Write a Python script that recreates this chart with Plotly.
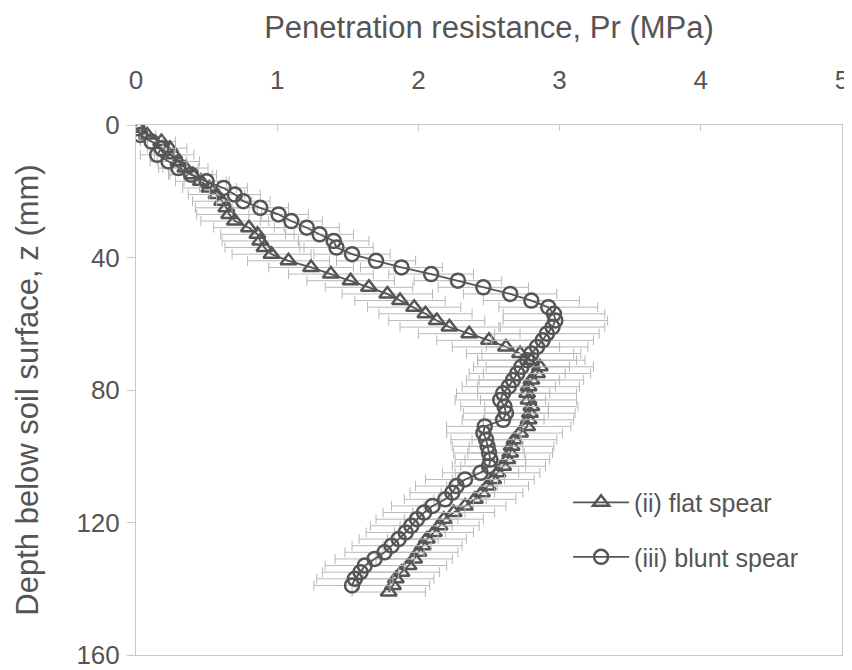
import plotly.graph_objects as go

# Depth below soil surface (mm)
depth_flat = [1, 3, 5, 7, 9, 11, 13, 15, 17, 19, 21, 23, 25, 27, 29, 31, 33, 35, 37, 39,
              41, 43, 45, 47, 49, 51, 53, 55, 57, 59, 61, 63, 65, 67, 69, 71, 73, 75, 77, 79,
              81, 83, 85, 87, 89, 91, 93, 95, 97, 99, 101, 103, 105, 107, 109, 111, 113, 115,
              117, 119, 121, 123, 125, 127, 129, 131, 133, 135, 137, 139, 141]
pr_flat = [0.02, 0.08, 0.18, 0.24, 0.27, 0.30, 0.35, 0.40, 0.46, 0.52, 0.57, 0.61, 0.64, 0.66,
           0.70, 0.80, 0.86, 0.88, 0.91, 0.96, 1.08, 1.24, 1.38, 1.52, 1.65, 1.78, 1.87, 1.97,
           2.05, 2.13, 2.22, 2.36, 2.50, 2.62, 2.72, 2.80, 2.86, 2.84, 2.80, 2.78, 2.77, 2.78,
           2.80, 2.79, 2.78, 2.77, 2.72, 2.68, 2.66, 2.65, 2.63, 2.60, 2.56, 2.53, 2.49, 2.45,
           2.40, 2.33, 2.25, 2.18, 2.15, 2.11, 2.06, 2.03, 2.00, 1.97, 1.93, 1.88, 1.84, 1.82,
           1.79]
err_flat = [0.03, 0.06, 0.10, 0.12, 0.14, 0.15, 0.16, 0.17, 0.18, 0.19, 0.20, 0.21, 0.22, 0.23,
            0.24, 0.25, 0.26, 0.27, 0.28, 0.28, 0.29, 0.30, 0.30, 0.31, 0.31, 0.32, 0.32, 0.33,
            0.33, 0.34, 0.35, 0.36, 0.37, 0.38, 0.38, 0.38, 0.38, 0.38, 0.37, 0.36, 0.35, 0.34,
            0.33, 0.32, 0.32, 0.31, 0.30, 0.30, 0.30, 0.30, 0.30, 0.30, 0.30, 0.29, 0.29, 0.29,
            0.29, 0.29, 0.29, 0.28, 0.28, 0.28, 0.28, 0.28, 0.28, 0.27, 0.27, 0.27, 0.27, 0.26,
            0.26]

depth_blunt = [1, 3, 5, 7, 9, 11, 13, 15, 17, 19, 21, 23, 25, 27, 29, 31, 33, 35, 37, 39,
               41, 43, 45, 47, 49, 51, 53, 55, 57, 59, 61, 63, 65, 67, 69, 71, 73, 75, 77, 79,
               81, 83, 85, 87, 89, 91, 93, 95, 97, 99, 101, 103, 105, 107, 109, 111, 113, 115,
               117, 119, 121, 123, 125, 127, 129, 131, 133, 135, 137, 139]
pr_blunt = [0.01, 0.03, 0.11, 0.18, 0.15, 0.23, 0.30, 0.39, 0.50, 0.62, 0.70, 0.76, 0.88, 1.01,
            1.10, 1.21, 1.30, 1.40, 1.42, 1.53, 1.70, 1.88, 2.09, 2.28, 2.46, 2.65, 2.80, 2.92,
            2.96, 2.97, 2.95, 2.91, 2.88, 2.84, 2.80, 2.77, 2.73, 2.70, 2.67, 2.64, 2.60, 2.58,
            2.61, 2.62, 2.60, 2.47, 2.46, 2.48, 2.49, 2.50, 2.51, 2.50, 2.44, 2.33, 2.27, 2.24,
            2.19, 2.10, 2.04, 1.99, 1.95, 1.91, 1.86, 1.81, 1.76, 1.69, 1.62, 1.59, 1.55, 1.53]
err_blunt = [0.02, 0.05, 0.08, 0.10, 0.12, 0.13, 0.14, 0.15, 0.16, 0.17, 0.18, 0.19, 0.20, 0.21,
             0.22, 0.23, 0.24, 0.25, 0.26, 0.27, 0.28, 0.29, 0.30, 0.31, 0.32, 0.33, 0.34, 0.35,
             0.36, 0.37, 0.37, 0.37, 0.36, 0.36, 0.35, 0.35, 0.34, 0.34, 0.33, 0.33, 0.33, 0.32,
             0.31, 0.30, 0.29, 0.27, 0.26, 0.25, 0.25, 0.25, 0.25, 0.26, 0.27, 0.28, 0.29, 0.30,
             0.29, 0.29, 0.29, 0.29, 0.29, 0.28, 0.28, 0.28, 0.28, 0.28, 0.28, 0.27, 0.27, 0.27]

x_ticks = [0, 1, 2, 3, 4, 5]
y_ticks = [0, 40, 80, 120, 160]

FONT = "Liberation Sans, Arial, sans-serif"
TXT = "#555555"
MARK = "#555555"
ERR = "#b8b8b8"
AXIS = "#c8c8c8"

fig = go.Figure()
fig.add_trace(go.Scatter(
    x=pr_flat, y=depth_flat, mode="lines+markers", name="(ii) flat spear",
    legendgroup="a",
    line=dict(color=MARK, width=1.8),
    marker=dict(symbol="triangle-up-open", size=14, color=MARK, line=dict(width=2.5, color=MARK)),
    error_x=dict(type="data", array=err_flat, symmetric=True, color=ERR, thickness=1, width=5),
))
fig.add_trace(go.Scatter(
    x=pr_blunt, y=depth_blunt, mode="lines+markers", name="(iii) blunt spear",
    legendgroup="b",
    line=dict(color=MARK, width=1.8),
    marker=dict(symbol="circle-open", size=14, color=MARK, line=dict(width=2.5, color=MARK)),
    error_x=dict(type="data", array=err_blunt, symmetric=True, color=ERR, thickness=1, width=5),
))

# the page body adds an 8 px offset, so margins are set to land the axes
# at the reference pixel positions in the 852x670 window
fig.update_layout(
    width=852, height=670,
    margin=dict(l=128, r=18, t=117, b=23),
    paper_bgcolor="white", plot_bgcolor="white",
    font=dict(family=FONT, size=26, color=TXT),
    showlegend=True,
    legend=dict(x=0.612, y=0.331, xanchor="left", yanchor="top",
                font=dict(family=FONT, size=25, color=TXT), bgcolor="rgba(0,0,0,0)",
                tracegroupgap=19, itemwidth=56),
)
fig.update_xaxes(
    side="top", range=[0, 5], tickvals=x_ticks, ticktext=[str(v) for v in x_ticks],
    showgrid=False, zeroline=False, automargin=False,
    showline=True, linecolor=AXIS, linewidth=1, mirror=True,
    ticks="inside", ticklen=6, tickcolor=AXIS,
    ticklabelstandoff=25, ticklabeloverflow="allow",
    tickfont=dict(family=FONT, size=26, color=TXT),
    title=dict(text="Penetration resistance, Pr (MPa)", font=dict(family=FONT, size=31, color=TXT), standoff=16),
)
fig.update_yaxes(
    range=[160, 0], tickvals=y_ticks, ticktext=[str(v) for v in y_ticks],
    showgrid=False, zeroline=False, automargin=False,
    showline=True, linecolor=AXIS, linewidth=1, mirror=True,
    ticks="outside", ticklen=8, tickcolor=AXIS,
    ticklabelstandoff=2, ticklabeloverflow="allow",
    tickfont=dict(family=FONT, size=26, color=TXT),
    title=dict(text="Depth below soil surface, z (mm)", font=dict(family=FONT, size=31, color=TXT), standoff=28),
)

fig.write_html("out.html")
